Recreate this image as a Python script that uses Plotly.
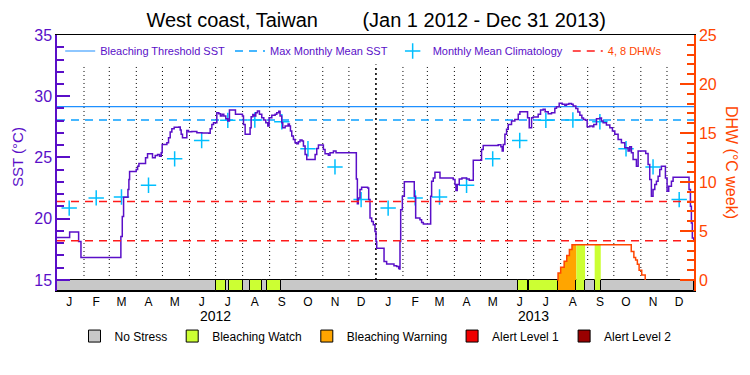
import pandas as pd
import plotly.graph_objects as go

# ---------------- data ----------------
START = "2012-01-01"
END = "2014-01-01"

# Daily SST (step series): breakpoints as days since 2012-01-01 and SST (deg C)
sst_day = [0, 14.5, 24.8, 27.5, 73.3, 74.9, 76.4, 81.4, 82.5, 83.3, 90.9, 92.5, 94.0, 101.6, 103.9,
           109.6, 112.7, 115.4, 117.7, 119.6, 120.7, 126.1, 128.0, 129.9, 131.8, 134.5, 139.8, 141.4,
           142.5, 144.0, 149.0, 150.9, 154.7, 160.5, 166.2, 174.2, 175.8, 177.7, 179.6, 183.4, 185.7,
           187.6, 189.5, 191.4, 193.7, 196.0, 197.9, 204.8, 212.8, 214.0, 215.9, 221.6, 222.8, 224.7,
           226.2, 228.1, 230.0, 232.3, 235.0, 237.3, 239.6, 241.9, 243.4, 246.5, 250.3, 252.2, 254.5,
           256.0, 257.9, 259.1, 261.8, 265.2, 266.7, 267.9, 269.4, 271.3, 273.2, 275.1, 277.0, 278.9,
           281.2, 282.8, 284.7, 286.6, 296.2, 298.1, 300.0, 305.7, 307.6, 311.4, 313.3, 317.2, 320.2,
           343.5, 344.7, 345.8, 347.7, 349.6, 356.5, 357.7, 359.2, 361.1, 363.0, 364.9, 366.1, 366.9,
           375.3, 378.3, 386.7, 389.8, 392.1, 392.8, 393.6, 394.4, 396.3, 398.6, 410.0, 411.6, 416.5,
           418.4, 420.4, 428.8, 429.9, 431.8, 433.7, 439.5, 454.7, 456.7, 457.8, 459.3, 461.6, 464.7,
           470.0, 473.1, 477.7, 487.2, 489.1, 506.3, 509.4, 510.9, 512.1, 514.0, 515.9, 517.8, 521.6,
           525.4, 529.3, 531.2, 540.0, 541.9, 544.6, 546.5, 552.2, 554.9, 557.9, 560.2, 563.7, 567.5,
           571.3, 573.2, 576.3, 579.7, 582.8, 584.7, 587.4, 590.4, 592.3, 595.4, 597.7, 600.0, 602.3,
           604.2, 606.5, 608.4, 611.4, 614.5, 616.0, 619.1, 622.9, 624.8, 626.7, 630.5, 634.4, 637.4,
           640.1, 643.9, 647.7, 651.6, 655.4, 657.3, 659.2, 661.1, 664.9, 666.9, 675.6, 678.3, 680.2,
           682.1, 684.0, 686.0, 687.9, 689.8, 691.7, 693.6, 698.2, 700.1, 702.0, 705.1, 707.0, 725.3,
           726.9, 728.0, 729.1, 730.7]
sst_val = [18.47, 18.91, 18.14, 16.83, 18.55, 20.19, 21.75, 22.38, 23.20, 23.85, 24.02, 24.29, 24.51, 24.97, 25.30,
           24.97, 25.16, 25.25, 25.11, 25.38, 26.07, 26.20, 26.61, 27.08, 27.35, 27.46, 27.49, 27.24,
           26.89, 26.61, 27.21, 27.10, 27.13, 27.02, 26.99, 26.97, 27.35, 27.70, 27.84, 28.66, 28.58,
           28.39, 28.52, 28.39, 28.17, 27.98, 28.88, 28.52, 28.39, 27.70, 26.89, 27.43, 28.33, 28.50,
           28.39, 28.66, 28.80, 28.52, 28.25, 28.06, 27.84, 27.57, 28.25, 28.44, 28.52, 28.66, 28.77,
           28.39, 27.84, 27.43, 27.57, 27.73, 27.57, 27.16, 26.75, 26.47, 26.20, 26.12, 26.28, 26.42,
           26.34, 25.93, 25.25, 24.84, 25.25, 25.74, 26.01, 25.66, 25.30, 25.19, 25.38, 25.52, 25.38,
           23.25, 21.23, 21.69, 22.38, 22.57, 22.51, 21.56, 20.06, 19.78, 19.51, 18.96, 18.14, 17.60,
           16.50, 16.31, 16.17, 16.09, 15.96, 15.90, 18.14, 20.74, 21.83, 23.01, 21.83, 20.06, 19.92,
           19.70, 19.56, 21.83, 23.06, 23.33, 23.80, 23.33, 23.20, 22.79, 22.30, 22.79, 23.25, 23.33,
           23.25, 23.14, 24.78, 25.66, 25.98, 26.04, 25.87, 25.52, 26.07, 26.89, 27.30, 27.70, 27.98,
           28.11, 28.52, 28.74, 28.25, 27.43, 28.25, 28.31, 28.52, 28.88, 28.93, 28.74, 28.58, 28.66,
           29.02, 29.15, 29.43, 29.34, 29.26, 29.34, 29.40, 29.34, 29.21, 28.99, 28.72, 28.44, 28.22,
           28.11, 28.03, 27.51, 27.57, 27.51, 27.70, 28.17, 28.22, 27.98, 27.84, 27.65, 27.43, 27.16,
           26.89, 26.47, 26.20, 25.79, 25.52, 25.87, 25.38, 24.84, 24.29, 25.52, 25.33, 24.43, 23.20,
           21.83, 22.38, 22.79, 23.06, 23.47, 24.02, 24.29, 23.33, 22.24, 22.65, 23.06, 23.39, 22.38,
           21.01, 19.65, 18.42, 18.14]

# Monthly mean climatology (Jan..Dec), plotted mid-month each year
month_letters = ["J", "F", "M", "A", "M", "J", "J", "A", "S", "O", "N", "D"]
clim_vals = [20.87, 21.70, 21.78, 22.73, 24.89, 26.39, 28.03, 28.06, 27.92, 25.71, 24.23, 21.56]
years = [2012, 2013]

mmm_sst = 28.06          # Max Monthly Mean SST
threshold_sst = 29.15    # Bleaching Threshold SST
dhw_levels = [4, 8]      # DHW reference levels

# Degree Heating Weeks (step series)
dhw_dates = ["2013-07-28", "2013-07-29", "2013-08-01", "2013-08-05", "2013-08-08", "2013-08-11", "2013-08-14",
             "2013-10-21", "2013-10-24", "2013-10-26", "2013-10-28", "2013-10-30", "2013-11-02", "2013-11-06"]
dhw_vals = [0.0, 0.7, 1.3, 1.9, 2.5, 3.1, 3.6, 2.9, 2.3, 2.05, 1.6, 1.0, 0.5, 0.0]

# Bleaching stress status: segment start dates and level (0..4); each runs to the next start
status_starts = ["2012-01-01", "2012-07-01", "2012-07-13", "2012-07-16", "2012-08-01", "2012-08-09",
                 "2012-08-23", "2012-08-29", "2012-09-14", "2013-06-13", "2013-06-25", "2013-06-26",
                 "2013-07-29", "2013-08-19", "2013-08-29", "2013-09-09", "2013-09-16"]
status_levels = [0, 1, 0, 1, 0, 1, 0, 1, 0, 1, 0, 1, 2, 1, 0, 1, 0]
status_names = ["No Stress", "Bleaching Watch", "Bleaching Warning", "Alert Level 1", "Alert Level 2"]
status_colors = ["#c8c8c8", "#ccff33", "#ffa500", "#f00000", "#990000"]

# ---------------- styling ----------------
PURPLE = "#5a0fc8"
ORANGE = "#ff4500"
FONT = "Liberation Sans"
SST_MIN, SST_MAX = 14.1, 35.0
SST_BASE = 15.0
frac = (SST_BASE - SST_MIN) / (SST_MAX - SST_MIN)
DHW_MAX = 25.0
DHW_MIN = -DHW_MAX * frac / (1 - frac)
DOT_TOP = 32.6

start = pd.Timestamp(START)
end = pd.Timestamp(END)
sst_x = [start + pd.Timedelta(days=d) for d in sst_day]
dhw_x = pd.to_datetime(dhw_dates)

fig = go.Figure()

# month separator dotted lines
month_starts = pd.date_range("2012-02-01", "2013-12-01", freq="MS")
dx, dy, bx, by = [], [], [], []
for m in month_starts:
    if m.month == 1:
        bx += [m, m, None]
        by += [SST_BASE, DOT_TOP, None]
    else:
        dx += [m, m, None]
        dy += [SST_BASE, DOT_TOP, None]
fig.add_trace(go.Scatter(x=dx, y=dy, mode="lines", line=dict(color="black", width=1, dash="1px,3px"),
                         showlegend=False, hoverinfo="skip"))
fig.add_trace(go.Scatter(x=bx, y=by, mode="lines", line=dict(color="black", width=1.6, dash="2px,3px"),
                         showlegend=False, hoverinfo="skip"))

# status bar
seg_start = pd.to_datetime(status_starts)
seg_end = list(seg_start[1:]) + [end]
for lvl, (name, col) in enumerate(zip(status_names, status_colors)):
    xs, ws, hs = [], [], []
    for s, e, l in zip(seg_start, seg_end, status_levels):
        if l == lvl:
            xs.append(s + (e - s) / 2)
            ws.append((e - s).total_seconds() * 1000)
            hs.append(SST_BASE - SST_MIN)
    if not xs:  # level never reached: zero-size placeholder so it still has a legend key
        xs, ws, hs = [start], [1], [0]
    fig.add_trace(go.Bar(x=xs, y=hs, base=SST_MIN, width=ws,
                         marker=dict(color=col, line=dict(color="black", width=1)),
                         name=name, legend="legend2", hoverinfo="skip"))

# reference lines
fig.add_trace(go.Scatter(x=[start, end], y=[threshold_sst] * 2, mode="lines",
                         line=dict(color="#1e90ff", width=1.2), name="Bleaching Threshold SST"))
fig.add_trace(go.Scatter(x=[start, end], y=[mmm_sst] * 2, mode="lines",
                         line=dict(color="#0aa0ff", width=1.5, dash="8px,6px"), name="Max Monthly Mean SST"))

# climatology crosses
clim_x, clim_y = [], []
for yr in years:
    for i, v in enumerate(clim_vals):
        clim_x.append(pd.Timestamp(year=yr, month=i + 1, day=15))
        clim_y.append(v)
fig.add_trace(go.Scatter(x=clim_x, y=clim_y, mode="markers",
                         marker=dict(symbol="cross-thin", size=11, line=dict(color="#00bfff", width=1.5)),
                         name="Monthly Mean Climatology"))

# SST line
fig.add_trace(go.Scatter(x=sst_x, y=sst_val, mode="lines", line=dict(color=PURPLE, width=1.5, shape="hv"),
                         showlegend=False))

# DHW level lines
lx, ly = [], []
for lv in dhw_levels:
    lx += [start, end, None]
    ly += [lv, lv, None]
fig.add_trace(go.Scatter(x=lx, y=ly, yaxis="y2", mode="lines",
                         line=dict(color="#ff1a1a", width=1.5, dash="8px,6px"),
                         name="<span style='color:%s'>4, 8 DHWs</span>" % ORANGE))


# DHW fill coloured by status
def dhw_at(t):
    v = 0.0
    for d, val in zip(dhw_x, dhw_vals):
        if d <= t:
            v = val
    return v


for s, e, l in zip(seg_start, seg_end, status_levels):
    if l == 0:
        continue
    xs = [s] + [d for d in dhw_x if s < d < e] + [e]
    ys = [dhw_at(x) for x in xs[:-1]]
    ys.append(ys[-1])
    if max(ys) <= 0:
        continue
    fig.add_trace(go.Scatter(x=xs, y=ys, yaxis="y2", mode="lines", fill="tozeroy",
                             fillcolor=status_colors[l], line=dict(width=0, shape="hv"),
                             showlegend=False, hoverinfo="skip"))

# DHW line
fig.add_trace(go.Scatter(x=dhw_x, y=dhw_vals, yaxis="y2", mode="lines",
                         line=dict(color=ORANGE, width=1.5, shape="hv"), showlegend=False))

# ---------------- layout ----------------
tick_x = [pd.Timestamp(year=yr, month=m, day=15) for yr in years for m in range(1, 13)]
tick_t = month_letters * len(years)

annotations = []
for yr in years:
    annotations.append(dict(x=pd.Timestamp(year=yr, month=7, day=1), xref="x", y=-0.096, yref="paper",
                            xanchor="center", yanchor="middle", text=str(yr), showarrow=False,
                            font=dict(size=14, color="black", family=FONT)))
annotations.append(dict(x=-0.063, xref="paper", y=0.523, yref="paper", text="SST (°C)", textangle=-90,
                        xanchor="center", yanchor="middle",
                        showarrow=False, font=dict(size=15, color=PURPLE, family=FONT)))
annotations.append(dict(x=1.059, xref="paper", y=0.502, yref="paper", text="DHW (°C week)", textangle=90,
                        xanchor="center", yanchor="middle",
                        showarrow=False, font=dict(size=16, color=ORANGE, family=FONT)))

# The page body adds an 8px offset; size the figure so the plot lands where the reference has it.
fig.update_layout(
    width=742, height=367, autosize=False,
    margin=dict(l=49, r=56, t=27, b=84, autoexpand=False),
    paper_bgcolor="white", plot_bgcolor="white",
    font=dict(family=FONT, color="black"),
    title=dict(text="West coast, Taiwan" + "&nbsp;" * 8 + "(Jan 1 2012 - Dec 31 2013)",
               x=0.501, xref="paper", xanchor="center", y=0.967, yanchor="middle",
               font=dict(size=20, color="black", family=FONT)),
    barmode="overlay", bargap=0,
    xaxis=dict(type="date", range=[start, end], showline=True, linecolor="black", linewidth=1, mirror=True,
               showgrid=False, zeroline=False, tickmode="array", tickvals=tick_x, ticktext=tick_t,
               ticks="", automargin=False, tickfont=dict(size=12, color="black", family=FONT)),
    yaxis=dict(range=[SST_MIN, SST_MAX], showline=True, linecolor=PURPLE, linewidth=1.5, showgrid=False,
               zeroline=False, tickmode="linear", tick0=15, dtick=5, ticks="inside", ticklen=13,
               automargin=False,
               tickcolor=PURPLE, tickwidth=1.5, tickfont=dict(size=16, color=PURPLE, family=FONT),
               minor=dict(ticks="inside", ticklen=7, tick0=15, dtick=1, tickcolor=PURPLE, tickwidth=1.5)),
    yaxis2=dict(range=[DHW_MIN, DHW_MAX], overlaying="y", side="right", showline=True, linecolor=ORANGE,
                linewidth=1.5, showgrid=False, zeroline=False, tickmode="linear", tick0=0, dtick=5,
                ticks="inside", ticklen=14, tickcolor=ORANGE, tickwidth=1.5, automargin=False,
                tickfont=dict(size=16, color=ORANGE, family=FONT),
                minor=dict(ticks="inside", ticklen=7, tickmode="array", tickvals=list(range(0, 26)),
                           tickcolor=ORANGE, tickwidth=1.5)),
    legend=dict(orientation="h", x=0.005, xanchor="left", y=0.9375, yanchor="middle",
                bgcolor="rgba(0,0,0,0)", font=dict(size=11, color=PURPLE, family=FONT),
                itemclick=False, tracegroupgap=0),
    legend2=dict(orientation="h", x=0.5, xanchor="center", y=-0.176, yanchor="middle",
                 bgcolor="rgba(0,0,0,0)", font=dict(size=12, color="black", family=FONT),
                 itemclick=False),
    annotations=annotations,
)

fig.write_html("out.html")
